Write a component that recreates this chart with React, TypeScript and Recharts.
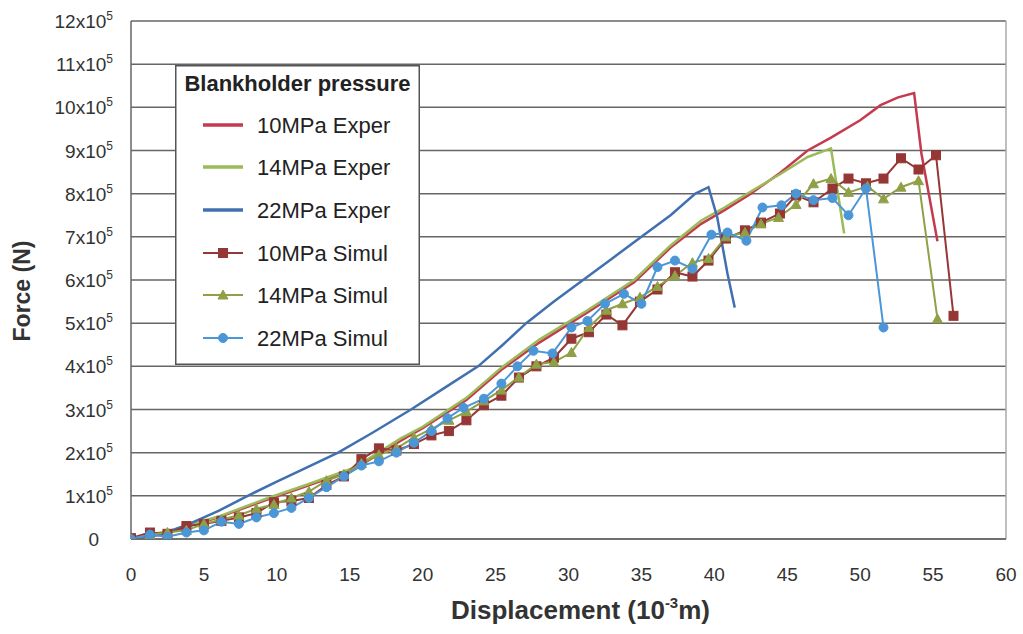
import React from 'react';
import { LineChart, Line, XAxis, YAxis, CartesianGrid, Legend, ReferenceLine } from 'recharts';

const xTicks = [0, 5, 10, 15, 20, 25, 30, 35, 40, 45, 50, 55, 60];
const yTicks = [0, 1, 2, 3, 4, 5, 6, 7, 8, 9, 10, 11, 12];
const seriesNames = ['10MPa Exper', '14MPa Exper', '22MPa Exper', '10MPa Simul', '14MPa Simul', '22MPa Simul'];

const exp10X = [0, 3, 6, 9.4, 12, 15.3, 18.5, 20, 23, 25.4, 28, 31.3, 34.5, 37, 39.1, 40.7, 42.5, 44.5, 46.4, 48, 50, 51.4, 52.6, 53.7, 54.2, 55.3];
const exp10Y = [0, 0.2, 0.5, 0.92, 1.22, 1.62, 2.28, 2.57, 3.22, 3.92, 4.55, 5.25, 5.95, 6.75, 7.3, 7.62, 8.0, 8.48, 9.0, 9.3, 9.7, 10.05, 10.23, 10.33, 8.93, 6.9];

const exp14X = [0, 3, 6, 9.4, 12, 15.3, 18.5, 20, 23, 25.4, 28, 31.3, 34.5, 37, 39.1, 40.7, 42.5, 44.5, 46.4, 48, 48.9];
const exp14Y = [0, 0.22, 0.52, 0.95, 1.25, 1.65, 2.33, 2.6, 3.27, 3.97, 4.62, 5.3, 6.0, 6.8, 7.38, 7.68, 8.05, 8.45, 8.85, 9.05, 7.08];

const exp22X = [0, 2, 4, 6, 8, 10, 12, 14.2, 16.5, 19.2, 21.5, 23.8, 25.5, 27.1, 29, 31, 33, 35, 37, 38.7, 39.6, 40.2, 40.9, 41.4];
const exp22Y = [0, 0.1, 0.35, 0.65, 1.0, 1.33, 1.65, 2.0, 2.45, 3.0, 3.5, 4.0, 4.5, 5.0, 5.5, 6.0, 6.5, 7.0, 7.5, 8.0, 8.15, 7.45, 6.15, 5.36];

const sim10X = [0, 1.3, 2.5, 3.8, 5.0, 6.2, 7.4, 8.6, 9.8, 11.0, 12.2, 13.4, 14.6, 15.8, 17.0, 18.2, 19.4, 20.6, 21.8, 23.0, 24.2, 25.4, 26.6, 27.8, 29.0, 30.2, 31.4, 32.6, 33.7, 34.9, 36.1, 37.3, 38.5, 39.6, 40.8, 42.1, 43.2, 44.5, 45.6, 46.8, 48.1, 49.2, 50.4, 51.6, 52.8, 54.0, 55.2, 56.4];
const sim10Y = [0.02, 0.15, 0.12, 0.3, 0.35, 0.42, 0.5, 0.6, 0.85, 0.88, 0.95, 1.25, 1.45, 1.85, 2.1, 2.05, 2.2, 2.4, 2.5, 2.75, 3.1, 3.32, 3.74, 4.0, 4.2, 4.64, 4.79, 5.2, 4.95, 5.5, 5.78, 6.18, 6.08, 6.45, 6.96, 7.15, 7.33, 7.54, 7.96, 7.8, 8.12, 8.35, 8.24, 8.35, 8.82, 8.56, 8.89, 5.17];

const sim14X = [0, 1.3, 2.5, 3.8, 5.0, 6.2, 7.4, 8.6, 9.8, 11.0, 12.2, 13.4, 14.6, 15.8, 17.0, 18.2, 19.4, 20.6, 21.8, 23.0, 24.2, 25.4, 26.6, 27.8, 29.0, 30.2, 31.4, 32.6, 33.7, 34.9, 36.1, 37.3, 38.5, 39.6, 40.8, 42.1, 43.2, 44.4, 45.6, 46.8, 48.0, 49.2, 50.5, 51.6, 52.8, 54.0, 55.3];
const sim14Y = [0, 0.1, 0.15, 0.2, 0.35, 0.45, 0.55, 0.7, 0.8, 0.95, 1.1, 1.35, 1.5, 1.75, 1.95, 2.1, 2.35, 2.55, 2.75, 2.95, 3.2, 3.45, 3.75, 4.05, 4.1, 4.32, 4.9, 5.3, 5.45, 5.6, 5.85, 6.1, 6.4, 6.5, 7.0, 7.1, 7.3, 7.45, 7.75, 8.23, 8.35, 8.03, 8.17, 7.88, 8.15, 8.3, 5.1];

const sim22X = [0, 1.3, 2.5, 3.8, 5.0, 6.2, 7.4, 8.6, 9.8, 11.0, 12.2, 13.4, 14.6, 15.8, 17.0, 18.2, 19.4, 20.6, 21.7, 22.8, 24.2, 25.4, 26.5, 27.6, 28.9, 30.2, 31.3, 32.5, 33.8, 35.0, 36.1, 37.3, 38.5, 39.8, 40.9, 42.2, 43.3, 44.6, 45.6, 46.8, 48.1, 49.2, 50.4, 51.6];
const sim22Y = [0, 0.1, 0.05, 0.15, 0.2, 0.4, 0.35, 0.5, 0.6, 0.72, 0.95, 1.2, 1.45, 1.7, 1.8, 2.0, 2.23, 2.5, 2.8, 3.04, 3.25, 3.6, 4.0, 4.36, 4.3, 4.9, 5.05, 5.45, 5.68, 5.45, 6.3, 6.45, 6.26, 7.05, 7.1, 6.91, 7.68, 7.73, 8.0, 7.85, 7.9, 7.5, 8.12, 4.9];

const toPts = (xs: number[], ys: number[]) => xs.map((x, i) => ({ x, y: ys[i] }));

const FONT = '"Liberation Sans", Arial, sans-serif';

const C_E10 = '#C43A4E';
const C_E14 = '#9BBB59';
const C_E22 = '#4070B0';
const C_S10 = '#953735';
const C_S14 = '#8FA046';
const C_S22 = '#4B96D6';

const markerOf: Record<string, string> = {
  '10MPa Simul': 'square',
  '14MPa Simul': 'triangle',
  '22MPa Simul': 'circle',
};

const Marker = ({ kind, cx, cy, color }: { kind: string; cx: number; cy: number; color: string }) => {
  if (kind === 'square') return <rect x={cx - 4.5} y={cy - 4.5} width={9} height={9} fill={color} stroke={color} />;
  if (kind === 'triangle')
    return <polygon points={`${cx},${cy - 5} ${cx + 5},${cy + 4} ${cx - 5},${cy + 4}`} fill={color} stroke={color} />;
  if (kind === 'circle') return <circle cx={cx} cy={cy} r={4.5} fill={color} stroke={color} />;
  return null;
};

const makeDot = (kind: string, color: string) => (props: any) => {
  const { cx, cy, index } = props;
  if (cx == null || cy == null) return <g key={`d-${index}`} />;
  return (
    <g key={`d-${kind}-${index}`}>
      <Marker kind={kind} cx={cx} cy={cy} color={color} />
    </g>
  );
};

const YTick = (props: any) => {
  const { x, y, payload } = props;
  const v = payload.value;
  if (v === 0) {
    return (
      <text x={x - 14} y={y} dy={7} textAnchor="end" fontSize={19} fill="#333" fontFamily={FONT}>
        0
      </text>
    );
  }
  return (
    <text x={x} y={y} dy={7} textAnchor="end" fontSize={19} fill="#333" fontFamily={FONT}>
      {`${v}x10`}
      <tspan dy={-8} fontSize={12}>5</tspan>
    </text>
  );
};

const XTick = (props: any) => {
  const { x, y, payload } = props;
  return (
    <text x={x} y={y} dy={14} textAnchor="middle" fontSize={19} fill="#333" fontFamily={FONT}>
      {payload.value}
    </text>
  );
};

const XTitle = (props: any) => {
  const vb = props.viewBox || { x: 131, y: 539, width: 875, height: 0 };
  const cx = vb.x + vb.width / 2 + 12;
  return (
    <text x={cx} y={vb.y + 80} textAnchor="middle" fontSize={26} fontWeight="bold" fill="#333" fontFamily={FONT}>
      Displacement (10
      <tspan dy={-11} fontSize={15}>-3</tspan>
      <tspan dy={11} fontSize={26}>m)</tspan>
    </text>
  );
};

const YTitle = () => {
  const cy = 291;
  const cx = 30;
  return (
    <text
      x={cx}
      y={cy}
      transform={`rotate(-90 ${cx} ${cy})`}
      textAnchor="middle"
      fontSize={23}
      fontWeight="bold"
      fill="#333"
      fontFamily={FONT}
    >
      Force (N)
    </text>
  );
};

const LegendBox = (props: any) => {
  const raw = props.payload || [];
  const payload = [...raw].sort((a: any, b: any) => seriesNames.indexOf(a.value) - seriesNames.indexOf(b.value));
  const rowY = [60, 102, 145, 188, 230, 273];
  return (
    <svg width={245} height={300} style={{ display: 'block' }}>
      <rect x={0.75} y={0.75} width={243.5} height={298.5} fill="#fff" stroke="#555" strokeWidth={1.5} />
      <text x={122.5} y={26} textAnchor="middle" fontSize={22} fontWeight="bold" fill="#222" fontFamily={FONT}>
        Blankholder pressure
      </text>
      {payload.map((p: any, i: number) => {
        const y = rowY[i] ?? 60 + i * 43;
        const kind = markerOf[p.value];
        return (
          <g key={p.value}>
            <line x1={28} x2={68} y1={y} y2={y} stroke={p.color} strokeWidth={kind ? 2 : 3.5} />
            {kind ? <Marker kind={kind} cx={48} cy={y} color={p.color} /> : null}
            <text x={82} y={y + 8} fontSize={22} fill="#222" fontFamily={FONT}>
              {p.value}
            </text>
          </g>
        );
      })}
    </svg>
  );
};

export default function App() {
  return (
    <div style={{ position: 'absolute', left: 0, top: 0, width: 1023, height: 634, background: '#fff' }}>
      <LineChart width={1023} height={634} margin={{ top: 21, right: 17, bottom: 35, left: 0 }}>
        <CartesianGrid vertical={false} stroke="#666" strokeWidth={1.5} />
        <XAxis
          type="number"
          dataKey="x"
          domain={[0, 60]}
          ticks={xTicks}
          interval={0}
          allowDataOverflow
          height={60}
          tickLine={false}
          tickSize={0}
          tickMargin={28}
          axisLine={{ stroke: '#666', strokeWidth: 1.5 }}
          tick={<XTick />}
          label={<XTitle />}
        />
        <YAxis
          type="number"
          dataKey="y"
          domain={[0, 12]}
          ticks={yTicks}
          interval={0}
          allowDataOverflow
          width={131}
          tickLine={false}
          tickSize={0}
          tickMargin={18}
          axisLine={{ stroke: '#666', strokeWidth: 1.5 }}
          tick={<YTick />}
          label={<YTitle />}
        />
        <ReferenceLine x={60} stroke="#aaa" strokeWidth={1.5} />
        <Line data={toPts(exp10X, exp10Y)} dataKey="y" name="10MPa Exper" type="linear" stroke={C_E10} strokeWidth={2.5} dot={false} isAnimationActive={false} />
        <Line data={toPts(exp14X, exp14Y)} dataKey="y" name="14MPa Exper" type="linear" stroke={C_E14} strokeWidth={2.5} dot={false} isAnimationActive={false} />
        <Line data={toPts(exp22X, exp22Y)} dataKey="y" name="22MPa Exper" type="linear" stroke={C_E22} strokeWidth={2.5} dot={false} isAnimationActive={false} />
        <Line data={toPts(sim10X, sim10Y)} dataKey="y" name="10MPa Simul" type="linear" stroke={C_S10} strokeWidth={2} dot={makeDot('square', C_S10)} isAnimationActive={false} />
        <Line data={toPts(sim14X, sim14Y)} dataKey="y" name="14MPa Simul" type="linear" stroke={C_S14} strokeWidth={2} dot={makeDot('triangle', C_S14)} isAnimationActive={false} />
        <Line data={toPts(sim22X, sim22Y)} dataKey="y" name="22MPa Simul" type="linear" stroke={C_S22} strokeWidth={2} dot={makeDot('circle', C_S22)} isAnimationActive={false} />
        <Legend
          layout="horizontal"
          verticalAlign="middle"
          align="center"
          content={<LegendBox />}
          wrapperStyle={{ position: 'absolute', left: 175, top: 65, width: 245, height: 300 }}
        />
      </LineChart>
    </div>
  );
}
